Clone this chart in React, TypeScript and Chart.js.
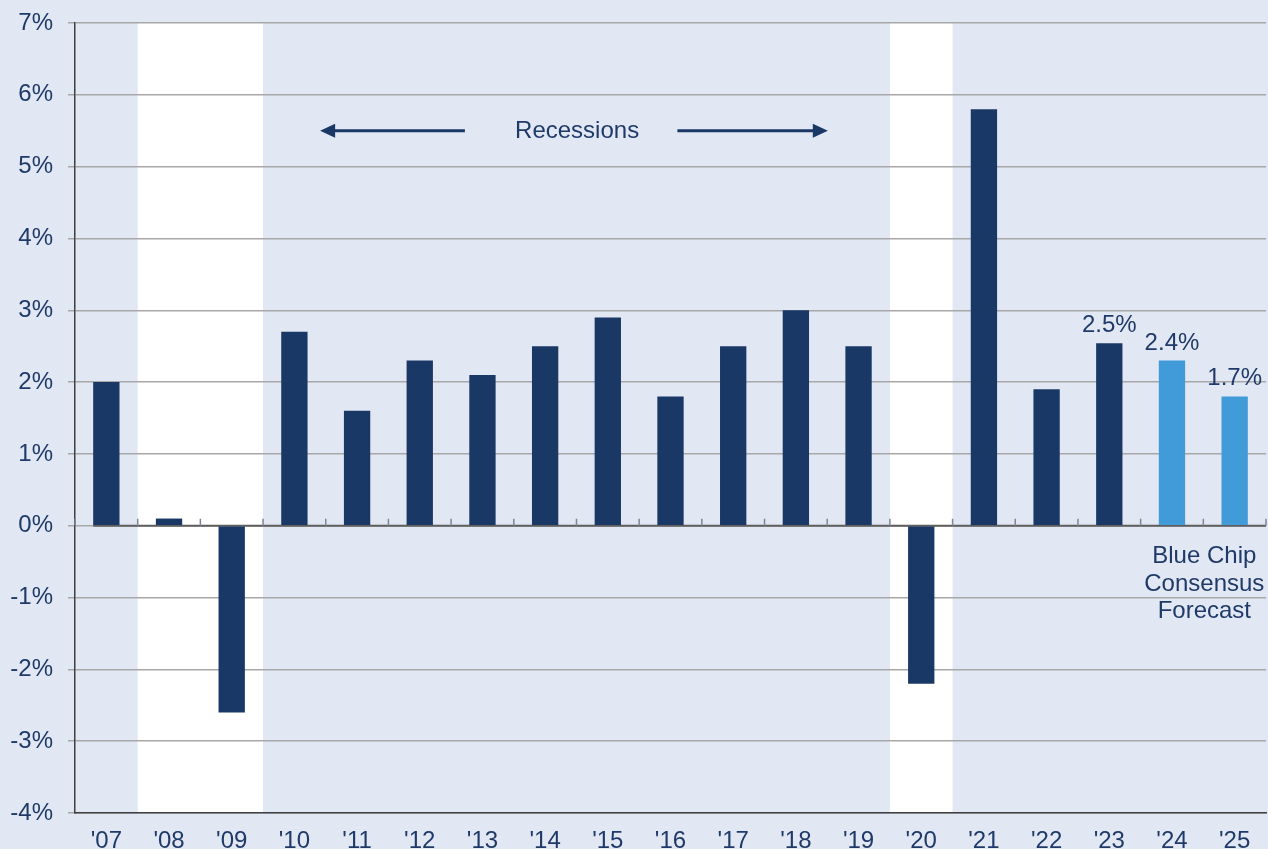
import React, { useEffect, useRef } from "react";
import { Chart, registerables } from "chart.js";

Chart.register(...registerables);

// ---- Data ----
const years = ["'07", "'08", "'09", "'10", "'11", "'12", "'13", "'14", "'15", "'16", "'17", "'18", "'19", "'20", "'21", "'22", "'23", "'24", "'25"];
const growth = [2.0, 0.1, -2.6, 2.7, 1.6, 2.3, 2.1, 2.5, 2.9, 1.8, 2.5, 3.0, 2.5, -2.2, 5.8, 1.9, 2.54, 2.3, 1.8];
const valueLabels: (string | null)[] = [null, null, null, null, null, null, null, null, null, null, null, null, null, null, null, null, "2.5%", "2.4%", "1.7%"];
const forecastYears = ["'24", "'25"];
const recessionSpans: [string, string][] = [["'08", "'09"], ["'20", "'20"]];
const yMin = -4;
const yMax = 7;
const yStep = 1;
const recessionText = "Recessions";
const forecastNote = ["Blue Chip", "Consensus", "Forecast"];

// ---- Styles ----
const BG = "#e1e7f3";
const NAVY = "#1a3866";
const LIGHT = "#419bd9";
const TEXT = "#1f3a68";
const GRID = "#a8a8a8";
const AXIS = "#404040";
const FONT = "'Liberation Sans', Arial, sans-serif";
const FS = 24;

const decorPlugin = {
  id: "decor",
  beforeDraw(chart: any) {
    const { ctx, chartArea, scales } = chart;
    ctx.save();
    ctx.fillStyle = BG;
    ctx.fillRect(0, 0, chart.width, chart.height);
    const xs = scales.x;
    const w = xs.getPixelForValue(1) - xs.getPixelForValue(0);
    ctx.fillStyle = "#ffffff";
    recessionSpans.forEach(([a, b]) => {
      const ia = years.indexOf(a);
      const ib = years.indexOf(b);
      const x1 = xs.getPixelForValue(ia) - w / 2;
      const x2 = xs.getPixelForValue(ib) + w / 2;
      ctx.fillRect(x1, chartArea.top, x2 - x1, chartArea.bottom - chartArea.top);
    });
    ctx.restore();
  },
  beforeDatasetsDraw(chart: any) {
    const { ctx, chartArea, scales } = chart;
    const xs = scales.x;
    const ys = scales.y;
    const y0 = ys.getPixelForValue(0);
    const w = xs.getPixelForValue(1) - xs.getPixelForValue(0);
    const meta = chart.getDatasetMeta(0);
    const first = meta.data[0] as any;
    const startX = first ? first.x - first.width / 2 : chartArea.left;
    ctx.save();
    ctx.strokeStyle = "#5e5e5e";
    ctx.lineWidth = 2;
    ctx.beginPath();
    ctx.moveTo(startX, y0);
    ctx.lineTo(chartArea.right, y0);
    ctx.stroke();
    ctx.strokeStyle = "#7f8696";
    ctx.lineWidth = 1.5;
    for (let i = 0; i <= years.length; i++) {
      const x = xs.getPixelForValue(i) - w / 2;
      ctx.beginPath();
      ctx.moveTo(x, y0);
      ctx.lineTo(x, y0 - 7);
      ctx.stroke();
    }
    ctx.restore();
  },
  afterDatasetsDraw(chart: any) {
    const { ctx, scales } = chart;
    const xs = scales.x;
    const ys = scales.y;
    ctx.save();
    ctx.fillStyle = TEXT;
    ctx.font = `${FS}px ${FONT}`;
    ctx.textAlign = "center";

    // value labels
    const meta = chart.getDatasetMeta(0);
    valueLabels.forEach((lbl, i) => {
      if (!lbl) return;
      const el = meta.data[i] as any;
      ctx.textBaseline = "alphabetic";
      ctx.fillText(lbl, el.x, el.y - 11);
    });

    // forecast note
    const i0 = years.indexOf(forecastYears[0]);
    const i1 = years.indexOf(forecastYears[forecastYears.length - 1]);
    const cx = (xs.getPixelForValue(i0) + xs.getPixelForValue(i1)) / 2 + 1;
    const y0 = ys.getPixelForValue(0);
    ctx.textBaseline = "middle";
    forecastNote.forEach((line, k) => {
      ctx.fillText(line, cx, y0 + 31 + k * 27.5);
    });

    // recessions annotation
    const ay = ys.getPixelForValue(5.5);
    const tx = xs.getPixelForValue(7.51);
    ctx.fillText(recessionText, tx, ay + 1);
    const drawArrow = (fromV: number, tipV: number) => {
      const fx = xs.getPixelForValue(fromV);
      const tipX = xs.getPixelForValue(tipV);
      const dir = tipX > fx ? 1 : -1;
      const headLen = 15;
      ctx.strokeStyle = NAVY;
      ctx.lineWidth = 3;
      ctx.beginPath();
      ctx.moveTo(fx, ay);
      ctx.lineTo(tipX - dir * headLen + dir * 2, ay);
      ctx.stroke();
      ctx.fillStyle = NAVY;
      ctx.beginPath();
      ctx.moveTo(tipX, ay);
      ctx.lineTo(tipX - dir * headLen, ay - 7);
      ctx.lineTo(tipX - dir * headLen, ay + 7);
      ctx.closePath();
      ctx.fill();
    };
    drawArrow(5.72, 3.41);
    drawArrow(9.11, 11.51);
    ctx.restore();
  },
};

export default function App() {
  const ref = useRef<HTMLCanvasElement | null>(null);

  useEffect(() => {
    document.body.style.margin = "0";
    document.body.style.background = BG;
    if (!ref.current) return;
    const colors = years.map((y) => (forecastYears.includes(y) ? LIGHT : NAVY));
    const chart = new Chart(ref.current, {
      type: "bar",
      data: {
        labels: years,
        datasets: [
          {
            data: growth,
            backgroundColor: colors,
            borderWidth: 0,
            barPercentage: 0.42,
            categoryPercentage: 1.0,
          },
        ],
      },
      options: {
        animation: false,
        responsive: false,
        maintainAspectRatio: false,
        layout: { padding: { top: 23, left: 0, right: 2, bottom: 0 } },
        plugins: {
          legend: { display: false },
          tooltip: { enabled: false },
          title: { display: false },
        },
        scales: {
          x: {
            type: "category",
            offset: true,
            grid: { display: false },
            border: { display: true, color: AXIS, width: 1.5 },
            ticks: {
              color: TEXT,
              font: { size: FS, family: FONT, lineHeight: 1.2 },
              padding: 6,
              maxRotation: 0,
              autoSkip: false,
            },
            afterFit: (s: any) => {
              s.height = 36;
            },
          },
          y: {
            min: yMin,
            max: yMax,
            grid: { color: GRID, lineWidth: 1.5, tickLength: 7, drawTicks: true },
            border: { display: true, color: AXIS, width: 1.5 },
            ticks: {
              stepSize: yStep,
              color: TEXT,
              font: { size: FS, family: FONT },
              padding: 15,
              callback: (v: any) => `${v}%`,
            },
            afterFit: (s: any) => {
              s.width = 75;
              s.paddingTop = 0;
              s.paddingBottom = 0;
            },
          },
        },
      },
      plugins: [decorPlugin],
    });
    return () => chart.destroy();
  }, []);

  return (
    <div style={{ width: 1268, height: 849, background: BG }}>
      <canvas ref={ref} width={1268} height={849} style={{ display: "block" }} />
    </div>
  );
}
